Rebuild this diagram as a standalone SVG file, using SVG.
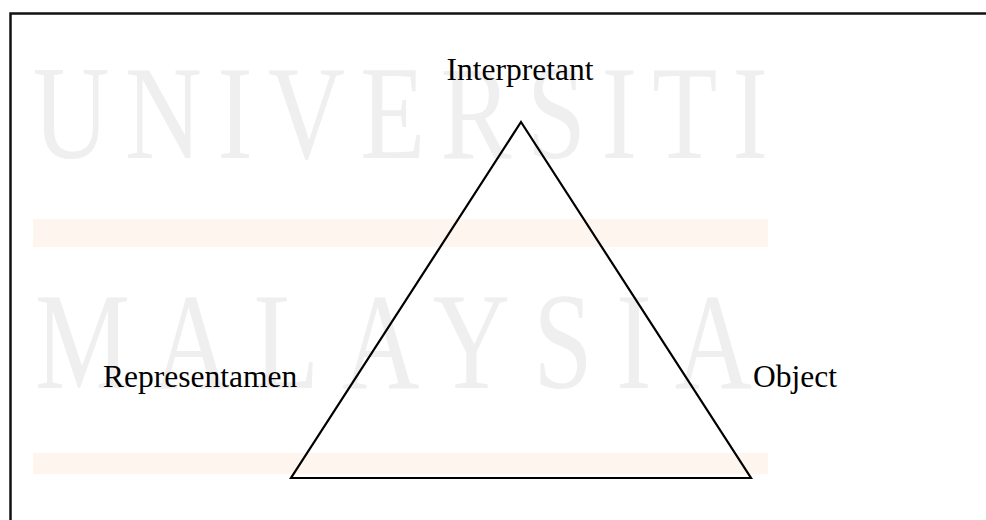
<svg xmlns="http://www.w3.org/2000/svg" width="986" height="520" viewBox="0 0 986 520">
  <style>
    .wm { font-family: "Liberation Serif", "Times New Roman", serif; fill: #efefef; }
    .bar { fill: #fef6ee; }
    .label { font-family: "Liberation Serif", "Times New Roman", serif; font-size: 31.5px; fill: #000000; }
    .edge { fill: none; stroke: #000000; stroke-width: 2.2; stroke-linejoin: miter; }
  </style>
  <rect x="0" y="0" width="986" height="520" fill="#ffffff"/>
  <g id="watermark">
    <rect class="bar" x="33" y="219" width="735" height="28"/>
    <rect class="bar" x="33" y="453" width="735" height="21"/>
    <text class="wm" transform="scale(0.8,1)" x="41" y="158" font-size="133" textLength="919" lengthAdjust="spacing">UNIVERSITI</text>
    <text class="wm" transform="scale(0.78,1)" x="45" y="388" font-size="137" textLength="919" lengthAdjust="spacing">MALAYSIA</text>
  </g>
  <g id="frame">
    <path d="M10.5 520 V13.5 H986" fill="none" stroke="#111111" stroke-width="2.5"/>
  </g>
  <g id="connectors">
    <path class="edge" d="M521 122 L751 478 L291 478 Z"/>
  </g>
  <g id="node-interpretant">
    <text class="label" x="520" y="80" text-anchor="middle">Interpretant</text>
  </g>
  <g id="node-representamen">
    <text class="label" x="103" y="387">Representamen</text>
  </g>
  <g id="node-object">
    <text class="label" x="753" y="387">Object</text>
  </g>
</svg>
